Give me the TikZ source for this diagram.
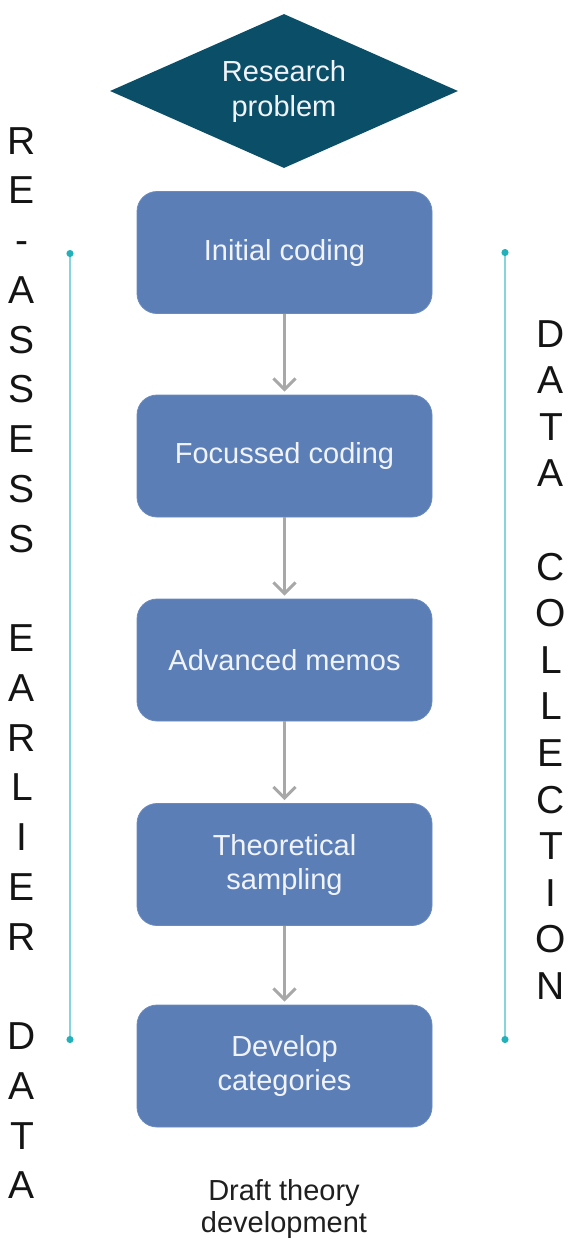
\documentclass[tikz,border=0pt]{standalone}
\usepackage{fontspec}
\setmainfont{Liberation Sans}
\usetikzlibrary{arrows.meta,shapes.geometric}
\definecolor{probfill}{HTML}{0B4E68}
\definecolor{stepfill}{HTML}{5B7EB7}
\definecolor{steptext}{HTML}{F0F4FA}
\definecolor{flowgray}{HTML}{A8A8A8}
\definecolor{spanline}{HTML}{86D5DC}
\definecolor{spandot}{HTML}{22B0BB}
\tikzset{
  stepbox/.style={rectangle, rounded corners=20pt, fill=stepfill, draw=stepfill!90!white,
    line width=0.8pt, minimum width=295pt, minimum height=122pt, inner sep=0pt,
    text=steptext, align=center, font=\fontsize{29}{34}\selectfont},
  problem/.style={diamond, shape aspect=2.26, fill=probfill, text=steptext, inner sep=0pt,
    minimum width=348pt, minimum height=154pt, align=center,
    font=\fontsize{29}{35}\selectfont},
  flow/.style={draw=flowgray, line width=3pt,
    -{Straight Barb[length=11pt,width=22pt,line width=3pt]}, shorten >=3pt},
  span/.style={draw=spanline, line width=1.6pt,
    {Circle[length=7pt,color=spandot]}-{Circle[length=7pt,color=spandot]}},
  vletter/.style={anchor=base, inner sep=0pt, text=black!92,
    font=\fontsize{39}{39}\selectfont},
  caption/.style={align=center, text=black!88, font=\fontsize{29}{32}\selectfont}
}
\begin{document}
\begin{tikzpicture}[x=1pt,y=-1pt]
\useasboundingbox (0,0) rectangle (579,1240);

% problem statement
\node[problem] (prob) at (284,91) {Research\\problem};

% process steps
\node[stepbox] (s1) at (284.5,252.5) {Initial coding};
\node[stepbox] (s2) at (284.5,456) {Focussed coding};
\node[stepbox] (s3) at (284.5,660) {Advanced memos};
\node[stepbox] (s4) at (284.5,864.5) {Theoretical\\sampling};
\node[stepbox] (s5) at (284.5,1066) {Develop\\categories};

\draw[flow] (s1) -- (s2);
\draw[flow] (s2) -- (s3);
\draw[flow] (s3) -- (s4);
\draw[flow] (s4) -- (s5);

\node[caption] (draft) at (284,1209) {Draft theory\\development};

% side spans
\coordinate (lt) at (70,250);
\coordinate (lb) at (70,1043);
\coordinate (rt) at (505,249);
\coordinate (rb) at (505,1043);
\draw[span] (lt) -- (lb);
\draw[span] (rt) -- (rb);

% vertical labels
\foreach \ch/\k in {R/0,E/1,-/2,A/3,S/4,S/5,E/6,S/7,S/8,E/10,A/11,R/12,L/13,I/14,E/15,R/16,D/18,A/19,T/20,A/21}
  \node[vletter] (left\k) at (22,{140+\k*49.76+14}) {\ch};
\foreach \ch/\k in {D/0,A/1,T/2,A/3,C/5,O/6,L/7,L/8,E/9,C/10,T/11,I/12,O/13,N/14}
  \node[vletter] (right\k) at (551,{333+\k*46.6+14}) {\ch};
\end{tikzpicture}
\end{document}
